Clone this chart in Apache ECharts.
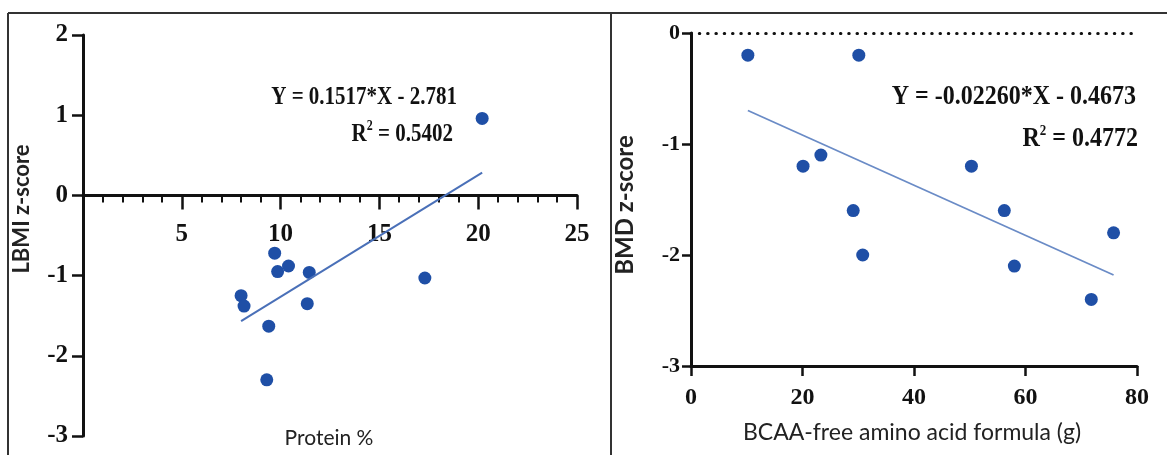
<!DOCTYPE html>
<html>
<head>
<meta charset="utf-8">
<script src="https://cdn.jsdelivr.net/npm/echarts@6/dist/echarts.min.js"></script>
<style>
  html, body { margin: 0; padding: 0; background: #fff; }
  #chart { width: 1167px; height: 455px; }
</style>
</head>
<body>
<div id="chart"></div>
<script>
// left panel: protein % vs LBMI z-score
var proteinX = [9.7, 9.85, 10.4, 8.0, 8.15, 9.4, 9.3, 11.45, 11.35, 17.3, 20.2];
var lbmiY = [-0.72, -0.95, -0.88, -1.25, -1.38, -1.63, -2.3, -0.96, -1.35, -1.03, 0.96];
var leftFit = [0.1517, -2.781]; // slope, intercept
var leftEq = "Y = 0.1517*X - 2.781";
var leftR2 = "0.5402";

// right panel: BCAA-free formula vs BMD z-score
var bcaaX = [10.2, 30.1, 20.1, 23.3, 29.1, 30.8, 50.3, 56.2, 58.0, 71.8, 75.8];
var bmdY = [-0.2, -0.2, -1.2, -1.1, -1.6, -2.0, -1.2, -1.6, -2.1, -2.4, -1.8];
var rightFit = [-0.0226, -0.4673];
var rightEq = "Y = -0.02260*X - 0.4673";
var rightR2 = "0.4772";

var leftTicksX = [0, 5, 10, 15, 20, 25];
var leftTicksY = [-3, -2, -1, 0, 1, 2];
var rightTicksX = [0, 20, 40, 60, 80];
var rightTicksY = [-3, -2, -1, 0];

function pairs(xs, ys) {
  return xs.map(function (x, i) { return [x, ys[i]]; });
}
function fitLine(xs, fit) {
  var lo = Math.min.apply(null, xs), hi = Math.max.apply(null, xs);
  return [[lo, fit[0] * lo + fit[1]], [hi, fit[0] * hi + fit[1]]];
}

var serif = "Liberation Serif";
var sans = "Lato";
var dotColor = "#1f4fa6";

// left grid geometry, the x axis sits on y = 0
var leftTop = 35, leftBottom = 19, leftH = 455 - leftTop - leftBottom;
var leftZeroOffset = -leftH * (0 - leftTicksY[0]) / (leftTicksY[leftTicksY.length - 1] - leftTicksY[0]);

function axisX(grid, ticks, opt) {
  return Object.assign({
    type: "value",
    gridIndex: grid,
    min: ticks[0],
    max: ticks[ticks.length - 1],
    interval: ticks[1] - ticks[0],
    splitLine: { show: false },
    axisLine: { onZero: false, lineStyle: { color: "#111", width: 3 } },
    axisTick: { length: 12, lineStyle: { color: "#111", width: 2.5 } },
    axisLabel: { color: "#111", fontFamily: serif, fontWeight: "bold", fontSize: 24, margin: 22 },
  }, opt);
}
function axisY(grid, ticks, opt) {
  return Object.assign({
    type: "value",
    gridIndex: grid,
    min: ticks[0],
    max: ticks[ticks.length - 1],
    interval: ticks[1] - ticks[0],
    splitLine: { show: false },
    axisLine: { show: true, onZero: false, lineStyle: { color: "#111", width: 3 } },
    axisTick: { show: true, length: 11, lineStyle: { color: "#111", width: 2.5 } },
    axisLabel: { color: "#111", fontFamily: serif, fontWeight: "bold", fontSize: 24, margin: 14 },
  }, opt);
}

function eqText(x, y, text, size, sy) {
  return {
    type: "text", x: x, y: y, scaleY: sy || 1,
    style: { text: text, align: "right", verticalAlign: "middle", fill: "#111",
      font: "bold " + size + "px '" + serif + "'" },
  };
}
function r2Text(x, y, val, size, sy) {
  return {
    type: "text", x: x, y: y, scaleY: sy || 1,
    style: {
      text: "{a|R}{s|2}{a| = " + val + "}",
      align: "right", verticalAlign: "middle",
      rich: {
        a: { fontFamily: serif, fontWeight: "bold", fontSize: size, fill: "#111", lineHeight: size + 2, verticalAlign: "bottom" },
        s: { fontFamily: serif, fontWeight: "bold", fontSize: Math.round(size * 0.55), fill: "#111", lineHeight: size + 2, verticalAlign: "top" },
      },
    },
  };
}
function titleText(x, y, text, size, weight, rot) {
  return {
    type: "text", x: x, y: y, rotation: rot || 0,
    style: { text: text, align: "center", verticalAlign: "middle", fill: "#222",
      font: weight + " " + size + "px '" + sans + "'" },
  };
}
function frame(x1, y1, x2, y2) {
  return { type: "line", shape: { x1: x1, y1: y1, x2: x2, y2: y2 },
    style: { stroke: "#333", lineWidth: 2 } };
}

var myChart = echarts.init(document.getElementById("chart"));
var option = {
  animation: false,
  backgroundColor: "#fff",
  grid: [
    { left: 83, right: 590, top: leftTop, bottom: leftBottom, outerBoundsMode: "none", containLabel: false },
    { left: 691, right: 30, top: 33, bottom: 89, outerBoundsMode: "none", containLabel: false },
  ],
  xAxis: [
    axisX(0, leftTicksX, {
      position: "bottom",
      offset: leftZeroOffset,
      axisTick: { length: 14, lineStyle: { color: "#111", width: 2.5 } },
      minorTick: { show: true, splitNumber: 5, length: 7, lineStyle: { color: "#111", width: 2 } },
      axisLabel: { color: "#111", fontFamily: serif, fontWeight: "bold", fontSize: 25, margin: 27, showMinLabel: false },
    }),
    axisX(1, rightTicksX, {
      axisTick: { length: 10, lineStyle: { color: "#111", width: 2.5 } },
      axisLabel: { color: "#111", fontFamily: serif, fontWeight: "bold", fontSize: 24, margin: 20 },
    }),
  ],
  yAxis: [
    axisY(0, leftTicksY, {
      axisLabel: { color: "#111", fontFamily: serif, fontWeight: "bold", fontSize: 25, margin: 15 },
    }),
    axisY(1, rightTicksY, {
      axisTick: { show: true, length: 9, lineStyle: { color: "#111", width: 2.5 } },
      axisLabel: { color: "#111", fontFamily: serif, fontWeight: "bold", fontSize: 22, margin: 11 },
    }),
  ],
  series: [
    {
      type: "line", xAxisIndex: 0, yAxisIndex: 0,
      data: fitLine(proteinX, leftFit), symbol: "none",
      lineStyle: { color: "#4a70b8", width: 2 },
    },
    {
      type: "scatter", xAxisIndex: 0, yAxisIndex: 0,
      data: pairs(proteinX, lbmiY), symbolSize: 13,
      itemStyle: { color: dotColor, opacity: 1 },
    },
    {
      type: "line", xAxisIndex: 1, yAxisIndex: 1,
      data: fitLine(bcaaX, rightFit), symbol: "none",
      lineStyle: { color: "#6a8bc6", width: 1.8 },
      markLine: {
        silent: true, symbol: "none", label: { show: false },
        lineStyle: { color: "#111", width: 3, type: [0.5, 7.8], cap: "round" },
        data: [{ yAxis: 0 }],
      },
    },
    {
      type: "scatter", xAxisIndex: 1, yAxisIndex: 1,
      data: pairs(bcaaX, bmdY), symbolSize: 13,
      itemStyle: { color: dotColor, opacity: 1 },
    },
  ],
  graphic: [
    frame(8, 13, 1167, 13),
    frame(8, 13, 8, 455),
    frame(611, 13, 611, 455),
    eqText(457, 97, leftEq, 21, 1.2),
    r2Text(453, 133, leftR2, 21, 1.2),
    eqText(1136, 97, rightEq, 24, 1.1),
    r2Text(1138, 138, rightR2, 24, 1.1),
    titleText(22, 209, "LBMI z-score", 22, "bold", Math.PI / 2),
    titleText(329, 438, "Protein %", 21, "normal"),
    titleText(625, 205, "BMD z-score", 24, "bold", Math.PI / 2),
    titleText(912, 433, "BCAA-free amino acid formula (g)", 23, "normal"),
  ],
};
option && myChart.setOption(option);
</script>
</body>
</html>
